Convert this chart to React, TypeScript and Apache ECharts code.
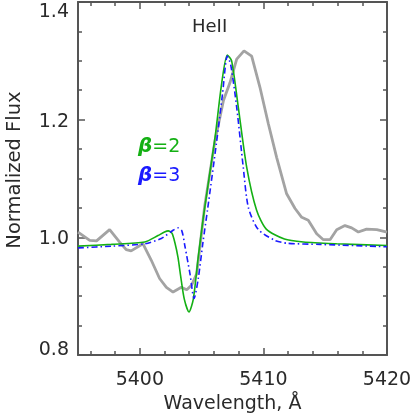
import React, { useEffect, useRef } from "react";
import * as echarts from "echarts";

const xMajorTicks = [5400, 5410, 5420];
const xMinorTicks = [5396, 5398, 5402, 5404, 5406, 5408, 5412, 5414, 5416, 5418];
const yMajorTicks = [0.8, 1.0, 1.2, 1.4];
const yMinorTicks = [0.85, 0.9, 0.95, 1.05, 1.1, 1.15, 1.25, 1.3, 1.35];

const observed: [number, number][] = [
  [5395.0, 1.009], [5395.95, 0.995], [5396.5, 0.994], [5397.56, 1.013], [5398.37, 0.992],
  [5398.9, 0.979], [5399.3, 0.977], [5400.26, 0.989], [5400.93, 0.961], [5401.6, 0.93],
  [5402.15, 0.915], [5402.69, 0.907], [5403.36, 0.915], [5403.8, 0.911], [5404.2, 0.919],
  [5404.6, 0.938], [5404.9, 0.99], [5405.25, 1.053], [5406.08, 1.164], [5406.76, 1.232],
  [5407.3, 1.263], [5407.84, 1.303], [5408.43, 1.317], [5409.05, 1.308], [5409.72, 1.255],
  [5410.4, 1.193], [5411.07, 1.136], [5411.88, 1.074], [5412.56, 1.049], [5413.1, 1.034],
  [5413.63, 1.029], [5414.31, 1.006], [5414.85, 0.996], [5415.39, 0.996], [5415.93, 1.013],
  [5416.6, 1.02], [5417.14, 1.016], [5417.68, 1.009], [5418.35, 1.014], [5419.17, 1.013],
  [5420.0, 1.009],
];

const beta2: [number, number][] = [
  [5395.0, 0.985], [5397.7, 0.988], [5400.4, 0.992], [5401.47, 1.003], [5402.0, 1.009],
  [5402.3, 1.011], [5402.6, 1.007], [5402.85, 0.99], [5403.09, 0.966], [5403.3, 0.935],
  [5403.6, 0.895], [5403.98, 0.873], [5404.33, 0.895], [5404.73, 0.967], [5405.14, 1.034],
  [5405.6, 1.1], [5406.1, 1.172], [5406.62, 1.261], [5407.08, 1.31], [5407.43, 1.3],
  [5407.97, 1.221], [5408.65, 1.119], [5409.45, 1.046], [5410.23, 1.014], [5411.7, 0.997],
  [5413.23, 0.992], [5415.93, 0.989], [5420.0, 0.986],
];

const beta3: [number, number][] = [
  [5395.0, 0.982], [5397.7, 0.985], [5400.4, 0.989], [5401.74, 0.998], [5402.69, 1.012],
  [5403.09, 1.016], [5403.4, 1.011], [5403.66, 0.984], [5404.06, 0.938], [5404.39, 0.896],
  [5404.73, 0.93], [5405.1, 0.99], [5405.5, 1.05], [5406.2, 1.16], [5406.7, 1.245],
  [5407.08, 1.308], [5407.35, 1.294], [5407.84, 1.221], [5408.37, 1.119], [5408.78, 1.051],
  [5409.56, 1.014], [5410.9, 0.995], [5411.9, 0.99], [5414.6, 0.988], [5420.0, 0.984],
];

const FONT = "DejaVu Sans";
const AX = "#555555";
const TXT = "#2a2a2a";
const GREEN = "#14b014";
const BLUE = "#1a1aff";

function tickAxis(kind: "x" | "y", pos: string, values: number[], len: number, showLine: boolean, labels: boolean) {
  const labelStyle = { color: TXT, fontFamily: FONT, fontSize: 19 };
  const base: any = {
    type: "value",
    position: pos,
    min: kind === "x" ? 5395 : 0.8,
    max: kind === "x" ? 5420 : 1.4,
    splitLine: { show: false },
    axisLine: { show: showLine, onZero: false, lineStyle: { color: AX, width: 2 } },
    axisTick: { show: true, inside: true, length: len, customValues: values, lineStyle: { color: AX, width: 1.5 } },
    axisLabel: labels
      ? {
          show: true,
          customValues: values,
          ...labelStyle,
          margin: kind === "x" ? 13 : 9,
          formatter: (v: number) => {
            if (kind === "x") return String(Math.round(v));
            const s = v.toFixed(1);
            if (v >= 1.39) return `{top|${s}}`;
            if (v <= 0.81) return `{bot|${s}}`;
            return s;
          },
          rich: {
            top: { ...labelStyle, padding: [16, 0, 0, 0] },
            bot: { ...labelStyle, padding: [0, 0, 14, 0] },
          },
        }
      : { show: false },
  };
  return base;
}

export default function App() {
  const ref = useRef<HTMLDivElement>(null);
  useEffect(() => {
    if (!ref.current) return;
    const chart = echarts.init(ref.current, null, { renderer: "svg" });
    const xMain = tickAxis("x", "bottom", xMajorTicks, 7, true, true);
    xMain.name = "Wavelength, Å";
    xMain.nameLocation = "middle";
    xMain.nameGap = 37;
    xMain.nameTextStyle = { color: TXT, fontFamily: FONT, fontSize: 19 };
    const yMain = tickAxis("y", "left", yMajorTicks, 7, true, true);
    chart.setOption({
      animation: false,
      grid: { left: 78, right: 29, top: 2, bottom: 63, containLabel: false, outerBoundsMode: "none" },
      xAxis: [
        xMain,
        tickAxis("x", "bottom", xMinorTicks, 4, false, false),
        tickAxis("x", "top", xMajorTicks, 7, true, false),
        tickAxis("x", "top", xMinorTicks, 4, false, false),
      ],
      yAxis: [
        yMain,
        tickAxis("y", "left", yMinorTicks, 4, false, false),
        tickAxis("y", "right", yMajorTicks, 7, true, false),
        tickAxis("y", "right", yMinorTicks, 4, false, false),
      ],
      graphic: [
        {
          type: "text",
          x: 13,
          y: 170,
          rotation: Math.PI / 2,
          style: {
            text: "Normalized Flux",
            fill: TXT,
            font: `19.5px "${FONT}"`,
            textAlign: "center",
            textVerticalAlign: "middle",
          },
        },
        {
          type: "text",
          x: 192,
          y: 25,
          style: { text: "HeII", fill: TXT, font: `18px "${FONT}"`, textAlign: "left", textVerticalAlign: "middle" },
        },
        {
          type: "text",
          x: 138,
          y: 145,
          style: {
            text: "{b|β}{n|=2}",
            textVerticalAlign: "middle",
            rich: {
              b: { fill: GREEN, fontFamily: FONT, fontSize: 20, fontStyle: "italic", fontWeight: "bold" },
              n: { fill: GREEN, fontFamily: FONT, fontSize: 19 },
            },
          },
        },
        {
          type: "text",
          x: 138,
          y: 174,
          style: {
            text: "{b|β}{n|=3}",
            textVerticalAlign: "middle",
            rich: {
              b: { fill: BLUE, fontFamily: FONT, fontSize: 20, fontStyle: "italic", fontWeight: "bold" },
              n: { fill: BLUE, fontFamily: FONT, fontSize: 19 },
            },
          },
        },
      ],
      series: [
        {
          type: "line",
          data: observed,
          showSymbol: false,
          symbol: "none",
          lineStyle: { color: "#a3a3a3", width: 2.8 },
          z: 2,
        },
        {
          type: "line",
          data: beta2,
          showSymbol: false,
          symbol: "none",
          smooth: 0.25,
          lineStyle: { color: GREEN, width: 1.6 },
          z: 3,
        },
        {
          type: "line",
          data: beta3,
          showSymbol: false,
          symbol: "none",
          smooth: 0.25,
          lineStyle: { color: BLUE, width: 1.6, type: [6, 3, 1.5, 3] },
          z: 4,
        },
      ],
    });
    return () => chart.dispose();
  }, []);
  return <div ref={ref} style={{ position: "fixed", left: 0, top: 0, width: 416, height: 418 }} />;
}
